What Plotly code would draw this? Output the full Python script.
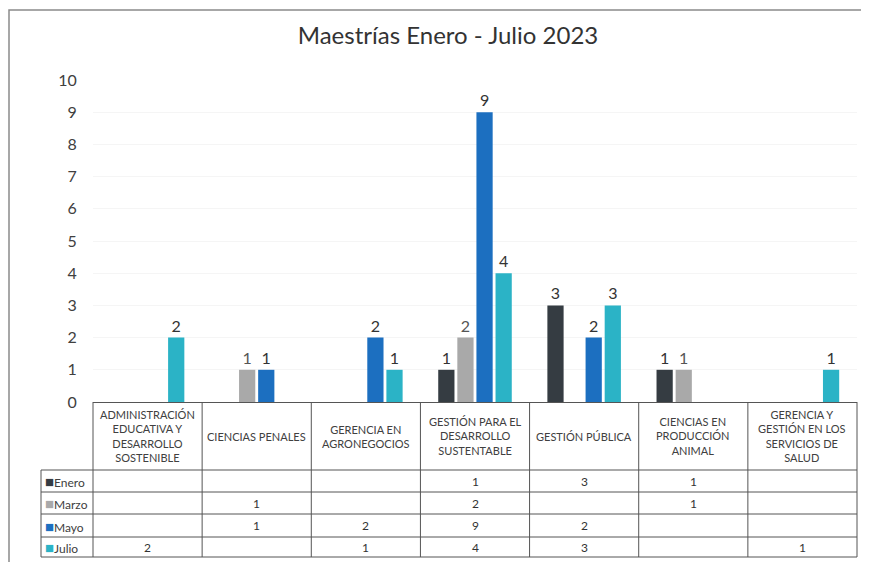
import plotly.graph_objects as go

# data
categorias = [
    "ADMINISTRACIÓN<br>EDUCATIVA Y<br>DESARROLLO<br>SOSTENIBLE",
    "CIENCIAS PENALES",
    "GERENCIA EN<br>AGRONEGOCIOS",
    "GESTIÓN PARA EL<br>DESARROLLO<br>SUSTENTABLE",
    "GESTIÓN PÚBLICA",
    "CIENCIAS EN<br>PRODUCCIÓN<br>ANIMAL",
    "GERENCIA Y<br>GESTIÓN EN LOS<br>SERVICIOS DE<br>SALUD",
]
meses = ["Enero", "Marzo", "Mayo", "Julio"]
enero = [None, None, None, 1, 3, 1, None]
marzo = [None, 1, None, 2, None, 1, None]
mayo = [None, 1, 2, 9, 2, None, None]
julio = [2, None, 1, 4, 3, None, 1]

series = [enero, marzo, mayo, julio]
colores = ["#353c42", "#a9a9a9", "#1c6fc0", "#2bb3c6"]
color_etiqueta = ["#333333", "#555555", "#333333", "#333333"]

# the page body adds an 8px margin, so the figure is placed 8px in
OFF = 8
W, H = 869 - OFF, 562 - OFF
FONT = "Lato"


def px(x):
    return (x - OFF) / W


def py(y):
    return 1 - (y - OFF) / H


x_idx = list(range(len(categorias)))

fig = go.Figure()
for mes, vals, col, tcol in zip(meses, series, colores, color_etiqueta):
    fig.add_trace(go.Bar(
        x=x_idx, y=vals, name=mes,
        marker=dict(color=col, line=dict(width=0)),
        text=[("" if v is None else str(v)) for v in vals],
        textposition="outside",
        textfont=dict(size=16, color=tcol, family=FONT),
        cliponaxis=False,
        showlegend=False,
    ))

shapes = []
annotations = []

# table rows (pixel positions of the horizontal rules)
row_top = 402
row_lines = [470, 492, 514, 537, 557]
x_left, x_start, x_end = 41, 93, 857

line_style = dict(color="#555555", width=1)

# horizontal lines
for y in row_lines:
    shapes.append(dict(type="line", xref="paper", yref="paper",
                       x0=px(x_left), x1=px(x_end), y0=py(y), y1=py(y),
                       line=line_style))
# outer vertical lines
shapes.append(dict(type="line", xref="paper", yref="paper",
                   x0=px(x_left), x1=px(x_left), y0=py(row_lines[0]), y1=py(row_lines[-1]),
                   line=line_style))
for xv in (x_start, x_end):
    shapes.append(dict(type="line", xref="paper", yref="paper",
                       x0=px(xv), x1=px(xv), y0=py(row_top), y1=py(row_lines[-1]),
                       line=line_style))
# inner column boundaries on the category axis
for i in range(len(categorias) - 1):
    shapes.append(dict(type="line", xref="x", yref="paper",
                       x0=i + 0.5, x1=i + 0.5, y0=py(row_top), y1=py(row_lines[-1]),
                       line=line_style))

# outer chart frame
shapes.append(dict(type="rect", xref="paper", yref="paper",
                   x0=px(9), x1=px(865), y0=py(570), y1=py(10),
                   line=dict(color="#8a8a8a", width=1.5)))

# category header cells
for i, cat in enumerate(categorias):
    annotations.append(dict(x=i, y=py((row_top + row_lines[0]) / 2), xref="x", yref="paper",
                            xanchor="center", yanchor="middle",
                            text=cat, showarrow=False, align="center",
                            font=dict(size=11, color="#404040", family=FONT)))

# series rows
for r, (mes, vals, col) in enumerate(zip(meses, series, colores)):
    yc = py((row_lines[r] + row_lines[r + 1]) / 2)
    annotations.append(dict(x=px(43), y=yc, xref="paper", yref="paper",
                            xanchor="left", yanchor="middle", showarrow=False,
                            text=f"<span style='color:{col};font-size:15px'>■</span>{mes}",
                            font=dict(size=12, color="#404040", family=FONT)))
    for i, v in enumerate(vals):
        if v is None:
            continue
        annotations.append(dict(x=i, y=yc, xref="x", yref="paper", showarrow=False,
                                xanchor="center", yanchor="middle",
                                text=str(v),
                                font=dict(size=12, color="#333333", family=FONT)))

fig.update_layout(
    width=W, height=H,
    margin=dict(l=0, r=0, t=0, b=0, pad=0, autoexpand=False),
    paper_bgcolor="white", plot_bgcolor="white",
    barmode="group", bargap=0.30, bargroupgap=0.15,
    title=dict(text="Maestrías Enero - Julio 2023", x=px(448), y=py(36),
               xanchor="center", yanchor="middle",
               font=dict(size=24, color="#333333", family=FONT)),
    xaxis=dict(domain=[px(x_start), px(x_end)], range=[-0.5, len(categorias) - 0.5],
               showticklabels=False, showgrid=False, zeroline=False, automargin=False,
               showline=True, linecolor="#555555", linewidth=1, ticks=""),
    yaxis=dict(domain=[py(402), py(80)], range=[0, 10], dtick=1, automargin=False,
               showgrid=True, gridcolor="#f5f5f5", zeroline=False,
               ticks="outside", ticklen=12, tickcolor="rgba(0,0,0,0)",
               tickfont=dict(size=16, color="#404040", family=FONT)),
    shapes=shapes,
    annotations=annotations,
    font=dict(family=FONT),
)

fig.write_html("out.html")
